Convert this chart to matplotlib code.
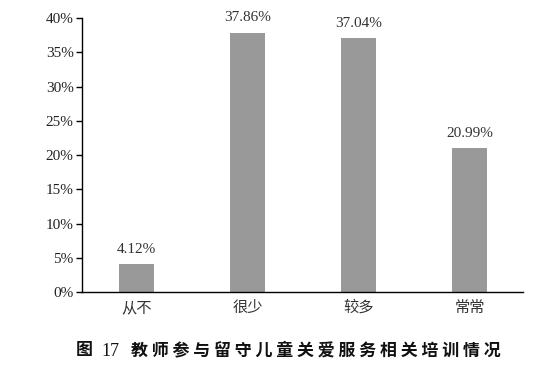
import matplotlib
matplotlib.use("Agg")
import matplotlib.pyplot as plt
from matplotlib.ticker import FuncFormatter

categories = ["从不", "很少", "较多", "常常"]
values = [4.12, 37.86, 37.04, 20.99]
fig_word, fig_num = "图", "17"
title = "教师参与留守儿童关爱服务相关培训情况"

plt.rcParams['font.family'] = ['Liberation Serif', 'Noto Sans CJK SC']

fig = plt.figure(figsize=(5.58, 3.76), dpi=100)
ax = fig.add_axes([0.147, 0.223, 0.79, 0.729])

x = range(len(categories))
bars = ax.bar(x, values, width=0.31, color="#999999")

for xi, v in zip(x, values):
    ax.text(xi, v + 1.2, f"{v:.2f}%", ha="center", va="bottom",
            fontsize=11, color="#333333")

ax.set_ylim(0, 40)
ax.set_xlim(-0.49, 3.48)
ax.set_yticks(range(0, 41, 5))
ax.yaxis.set_major_formatter(FuncFormatter(lambda v, p: f"{int(v)}%"))
ax.set_xticks(list(x))
ax.set_xticklabels(categories, fontfamily="Noto Sans CJK SC", fontsize=11,
                   color="#333333")
ax.tick_params(axis="x", length=0, pad=5)
ax.tick_params(axis="y", length=4, width=1, labelsize=11, pad=2,
               labelcolor="#222222")
for s in ["top", "right"]:
    ax.spines[s].set_visible(False)
ax.spines["left"].set_linewidth(1)
ax.spines["bottom"].set_linewidth(1)

# caption: "图", number, then spaced-out title text
fig.text(0.135, 0.069, fig_word, ha="left", va="center", fontsize=12.2,
         fontfamily="Noto Sans CJK SC", fontweight="bold", color="#111111")
fig.text(0.181, 0.066, fig_num, ha="left", va="center", fontsize=13,
         fontfamily="Liberation Serif", color="#111111")
fig.text(0.897, 0.069, " ".join(title), ha="right", va="center", fontsize=12.2,
         fontfamily="Noto Sans CJK SC", fontweight="bold", color="#111111")

fig.savefig("out.png", dpi=100)
